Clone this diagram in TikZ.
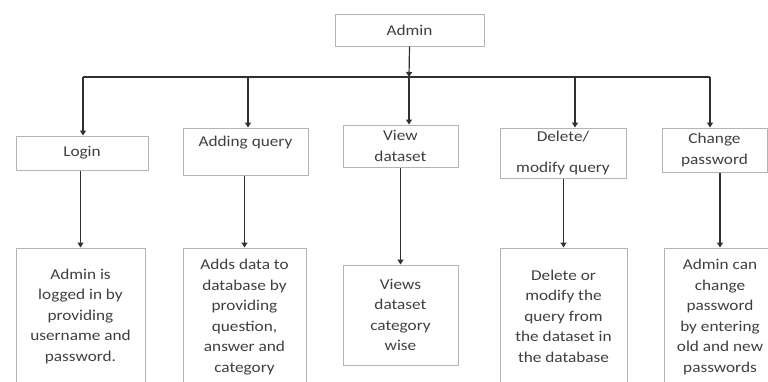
\documentclass[tikz,border=0pt]{standalone}
\usepackage{fontspec}
\setmainfont{Carlito}[FakeStretch=1.15]
\usetikzlibrary{arrows.meta}
\definecolor{boxline}{HTML}{B4B4B4}
\definecolor{txt}{HTML}{404040}
\definecolor{conn}{HTML}{303030}
\tikzset{
  box/.style={draw=boxline, line width=1pt, inner sep=0pt, align=center,
    text=txt, font=\fontsize{15}{20.5}\selectfont},
  arr/.style={draw=conn, line width=1.2pt, -{Triangle[width=6pt,length=5pt]}},
  busline/.style={draw=conn, line width=1.2pt}
}
\begin{document}
\begin{tikzpicture}[x=1pt,y=-1pt]
\useasboundingbox (0,0) rectangle (768,381);
\clip (0,0) rectangle (768,381);
\fill[white] (0,0) rectangle (768,381);
% top
\node[box, minimum width=149pt, minimum height=32pt] (admin) at (409.5,30) {Admin};
% second row
\node[box, minimum width=132pt, minimum height=34pt] (login) at (82,153) {Login};
\node[box, minimum width=125pt, minimum height=47pt] (add) at (245.5,151.5) {Adding query\\\mbox{}};
\node[box, minimum width=115pt, minimum height=42pt] (view) at (400.5,146) {View\\dataset};
\node[box, minimum width=126pt, minimum height=50pt] (del) at (563,153) {Delete/\\[11pt]modify query};
\node[box, minimum width=105pt, minimum height=44pt] (chg) at (714.5,150) {Change\\password};
% third row
\node[box, minimum width=129pt, minimum height=136pt] (d1) at (80.5,316) {Admin is\\logged in by\\providing\\username and\\password.};
\node[box, minimum width=123pt, minimum height=138pt] (d2) at (244.5,317) {Adds data to\\database by\\providing\\question,\\answer and\\category};
\node[box, minimum width=115pt, minimum height=100pt] (d3) at (400.5,315) {Views\\dataset\\category\\wise};
\node[box, minimum width=127pt, minimum height=136pt] (d4) at (563.5,316) {Delete or\\modify the\\query from\\the dataset in\\the database};
\node[box, minimum width=112pt, minimum height=138pt] (d5) at (720,317) {Admin can\\change\\password\\by entering\\old and new\\passwords};
% bus
\coordinate (b1) at (83,77);
\coordinate (b2) at (248,77);
\coordinate (b3) at (409,77);
\coordinate (b4) at (575,77);
\coordinate (b5) at (710,77);
\draw[busline] (b1) -- (b5);
\draw[arr] (admin.south) -- (b3);
\draw[arr] (b1) -- (b1 |- login.north);
\draw[arr] (b2) -- (b2 |- add.north);
\draw[arr] (b3) -- (b3 |- view.north);
\draw[arr] (b4) -- (b4 |- del.north);
\draw[arr] (b5) -- (b5 |- chg.north);
% lower connectors
\draw[arr] (d1.north |- login.south) -- (d1.north);
\draw[arr] (d2.north |- add.south) -- (d2.north);
\draw[arr] (view.south) -- (d3.north);
\draw[arr] (d4.north |- del.south) -- (d4.north);
\draw[arr] (d5.north |- chg.south) -- (d5.north);
\end{tikzpicture}
\end{document}
